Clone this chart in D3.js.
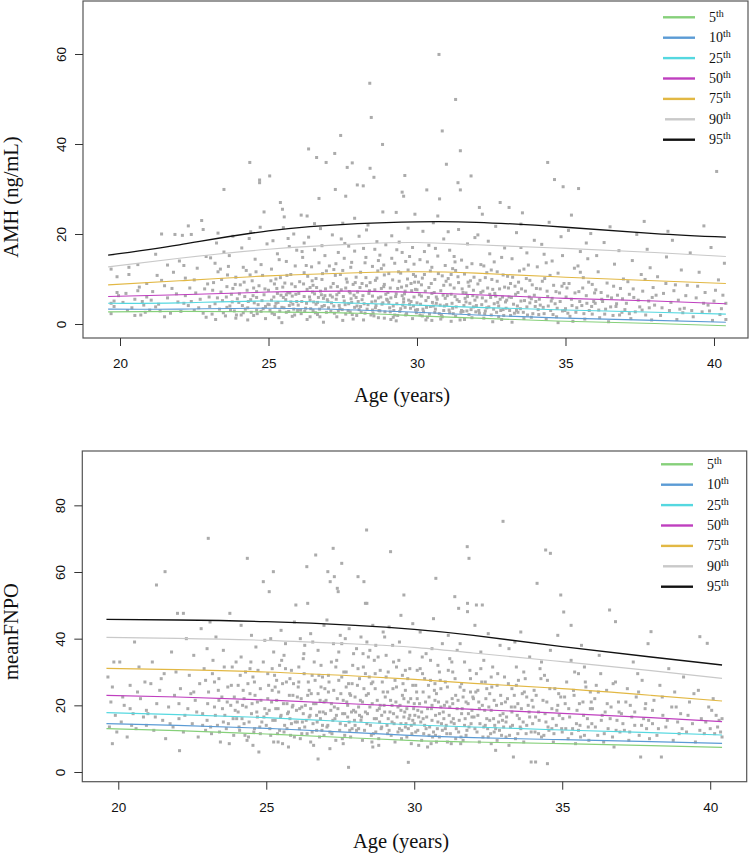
<!DOCTYPE html>
<html><head><meta charset="utf-8">
<script src="https://cdn.jsdelivr.net/npm/d3@7"></script>
<style>body{margin:0;background:#fff}svg{display:block}</style>
</head><body>
<script>
// ---------- DATA ----------
const percentileLabels = ["5","10","25","50","75","90","95"];
const percentileColors = ["#86d07a","#5b9bd5","#55d8e0","#bf3fbf","#e2b844","#c9c9c9","#111111"];
const curveAges = [19.6, 22, 25, 28, 30, 32, 35, 38, 40.4];
const amhCurves = [
  [2.7, 2.8, 2.7, 2.4, 1.8, 1.3, 0.6, 0.1, -0.4],
  [3.3, 3.3, 3.5, 3.1, 2.6, 2.0, 1.3, 0.8, 0.4],
  [4.6, 4.7, 5.1, 4.6, 4.2, 3.7, 3.1, 2.6, 2.2],
  [6.1, 6.5, 7.1, 7.3, 7.0, 6.5, 5.7, 5.1, 4.5],
  [8.7, 9.6, 10.7, 11.4, 11.6, 11.3, 10.4, 9.6, 9.0],
  [12.7, 14.6, 16.6, 17.8, 18.1, 17.6, 16.8, 15.9, 15.0],
  [15.3, 17.6, 20.7, 22.3, 22.7, 22.6, 21.5, 20.1, 19.3]
];
const fnpoCurves = [
  [13.0, 12.4, 11.4, 10.2, 9.4, 9.0, 8.5, 7.9, 7.4],
  [14.5, 14.0, 13.1, 11.8, 10.9, 10.3, 9.7, 9.1, 8.6],
  [17.8, 17.2, 16.3, 15.0, 14.1, 13.5, 12.6, 11.8, 11.1],
  [23.0, 22.5, 21.6, 20.4, 19.6, 18.8, 17.6, 16.3, 15.1],
  [31.1, 30.7, 30.0, 28.8, 27.8, 26.6, 25.0, 23.0, 21.3],
  [40.4, 40.1, 39.5, 38.4, 37.4, 35.7, 33.1, 30.4, 28.1],
  [45.8, 45.6, 45.1, 44.0, 42.8, 41.0, 37.6, 34.5, 32.1]
];
const xTicks = [20, 25, 30, 35, 40];
const amhTicks = [0, 20, 40, 60];
const fnpoTicks = [0, 20, 40, 60, 80];

const amhPoints = [
[19.7,12.2],[19.8,5.1],[19.7,4.6],[19.9,7.0],[19.8,3.9],[19.9,10.5],[19.7,2.3],[19.95,6.3],
[20.1,4.8],[20.2,6.8],[20.3,11.0],[20.4,3.6],[20.5,5.5],[20.6,7.4],[20.7,2.0],[20.8,4.2],[20.9,9.0],[20.3,12.6],[20.6,13.2],[20.5,1.9],[20.9,6.0],[20.75,5.0],
[21.0,3.1],[21.1,7.2],[21.2,15.5],[21.3,4.4],[21.4,20.0],[21.5,8.5],[21.6,5.8],[21.7,2.4],[21.8,11.5],[21.9,6.7],[21.2,3.8],[21.5,1.6],[21.6,13.1],[21.85,19.9],[21.4,9.7],[21.95,4.9],
[22.0,14.0],[22.05,2.8],[22.1,19.7],[22.2,6.3],[22.3,21.8],[22.3,4.1],[22.4,19.9],[22.5,9.8],[22.5,3.0],[22.6,12.4],[22.7,5.5],[22.75,23.0],[22.8,21.0],[22.85,7.8],[22.9,1.5],[22.9,15.0],[22.2,10.2],[22.4,5.0],[22.65,3.6],[22.95,8.9],
[23.0,6.0],[23.05,14.7],[23.1,2.2],[23.15,9.2],[23.2,4.5],[23.25,18.0],[23.3,11.6],[23.35,3.3],[23.4,7.1],[23.45,5.2],[23.5,29.9],[23.5,16.0],[23.55,1.8],[23.6,8.3],[23.65,12.8],[23.7,4.0],[23.75,6.6],[23.8,19.5],[23.85,2.9],[23.9,10.4],[23.95,5.6],[23.3,20.2],[23.6,3.7],[23.8,7.9],[23.2,13.5],[23.9,1.3],
[24.0,4.8],[24.05,8.7],[24.1,16.9],[24.15,2.5],[24.2,6.1],[24.25,11.9],[24.3,3.6],[24.35,19.0],[24.37,35.9],[24.4,5.4],[24.45,9.6],[24.5,1.9],[24.55,14.4],[24.6,7.2],[24.65,4.3],[24.7,32.0],[24.7,31.4],[24.72,21.5],[24.75,2.8],[24.8,10.8],[24.85,24.9],[24.85,6.5],[24.9,3.9],[24.95,17.8],[24.15,12.6],[24.3,0.9],[24.5,8.0],[24.6,5.9],[24.75,13.2],[24.9,1.2],[24.4,20.5],[24.6,3.1],
[25.0,7.5],[25.04,32.9],[25.05,3.0],[25.1,12.2],[25.1,5.3],[25.15,18.5],[25.2,2.1],[25.2,8.9],[25.25,4.6],[25.3,15.6],[25.3,6.8],[25.35,1.4],[25.4,27.0],[25.4,10.3],[25.45,3.7],[25.47,25.5],[25.5,21.4],[25.5,5.9],[25.53,23.8],[25.55,9.1],[25.6,2.6],[25.6,13.9],[25.65,7.0],[25.7,4.1],[25.7,17.2],[25.75,11.0],[25.8,1.7],[25.8,6.2],[25.85,20.0],[25.85,3.3],[25.9,8.3],[25.9,12.9],[25.95,5.0],[25.95,16.4],[25.25,10.0],[25.45,0.3],[25.75,4.9],[25.6,6.5],
[26.0,4.2],[26.05,9.4],[26.1,24.2],[26.1,2.3],[26.15,14.8],[26.2,6.1],[26.2,11.4],[26.25,3.5],[26.3,24.0],[26.3,7.7],[26.35,38.9],[26.35,19.3],[26.4,1.6],[26.4,5.3],[26.45,12.7],[26.5,8.6],[26.5,3.0],[26.55,16.5],[26.55,6.7],[26.6,10.1],[26.62,37.0],[26.65,2.1],[26.65,4.8],[26.7,27.9],[26.7,13.6],[26.75,7.3],[26.75,21.2],[26.8,3.9],[26.8,9.9],[26.85,5.7],[26.85,0.4],[26.9,15.2],[26.94,35.9],[26.95,2.6],[26.95,11.8],[26.2,18.0],[26.4,8.1],[26.6,4.4],[26.8,17.4],[26.3,1.0],[26.55,22.3],[26.9,6.3],
[27.0,5.0],[27.05,12.9],[27.1,2.8],[27.1,8.2],[27.15,19.8],[27.2,4.0],[27.23,37.9],[27.25,29.9],[27.25,10.8],[27.3,6.5],[27.3,1.6],[27.35,15.9],[27.4,3.4],[27.43,41.9],[27.45,7.6],[27.5,22.4],[27.5,11.9],[27.55,5.1],[27.6,28.4],[27.6,2.2],[27.65,34.8],[27.65,9.3],[27.7,17.3],[27.7,4.5],[27.75,6.9],[27.8,13.7],[27.82,35.8],[27.85,1.1],[27.85,8.8],[27.9,23.5],[27.9,3.7],[27.95,5.9],[27.95,10.4],[27.99,30.9],[27.15,6.0],[27.35,3.0],[27.55,14.6],[27.75,2.7],[27.45,18.9],[27.6,8.0],[27.8,4.8],[27.2,12.1],[27.5,0.8],[27.9,16.2],
[28.0,7.1],[28.05,3.2],[28.1,11.5],[28.15,5.4],[28.19,30.7],[28.2,16.8],[28.25,2.4],[28.3,8.5],[28.3,20.9],[28.35,4.3],[28.41,53.5],[28.42,34.6],[28.46,45.9],[28.5,6.2],[28.5,12.8],[28.55,32.6],[28.55,1.8],[28.6,9.7],[28.6,3.6],[28.65,18.3],[28.7,5.8],[28.7,14.1],[28.75,2.9],[28.8,7.9],[28.84,39.9],[28.85,24.9],[28.85,4.7],[28.9,10.9],[28.9,1.3],[28.95,6.6],[28.95,17.6],[28.1,3.9],[28.25,13.6],[28.4,7.4],[28.45,2.0],[28.65,10.2],[28.8,12.3],[28.35,22.0],[28.6,5.1],[28.75,15.3],[28.9,8.8],[28.05,19.5],[28.2,0.9],[28.5,3.1],
[29.0,5.3],[29.05,11.2],[29.1,2.7],[29.1,8.0],[29.15,19.6],[29.2,4.0],[29.25,13.5],[29.3,24.8],[29.3,6.7],[29.35,1.9],[29.4,9.5],[29.45,3.4],[29.5,29.3],[29.5,15.9],[29.55,28.4],[29.55,5.6],[29.59,33.0],[29.6,7.3],[29.65,2.3],[29.7,12.0],[29.7,21.3],[29.75,4.4],[29.8,9.0],[29.85,1.2],[29.85,17.0],[29.9,6.0],[29.93,24.4],[29.95,3.1],[29.95,10.6],[29.15,14.6],[29.35,7.9],[29.45,11.3],[29.6,3.7],[29.8,5.0],[29.2,1.5],[29.4,18.2],[29.65,8.5],[29.9,13.3],[29.05,4.8],[29.25,2.0],[29.5,6.3],[29.75,15.0],[29.95,7.7],[29.3,0.7],
[30.0,4.7],[30.05,9.3],[30.1,2.0],[30.1,14.3],[30.15,6.2],[30.2,3.3],[30.2,20.6],[30.25,11.0],[30.3,5.2],[30.33,29.8],[30.35,1.5],[30.4,8.1],[30.4,17.5],[30.45,3.9],[30.5,12.6],[30.5,6.8],[30.55,22.5],[30.6,2.6],[30.6,9.9],[30.65,4.6],[30.7,15.1],[30.74,59.9],[30.76,27.8],[30.8,7.4],[30.8,1.1],[30.85,42.9],[30.85,10.7],[30.9,3.0],[30.9,18.9],[30.95,5.7],[30.99,35.5],[30.95,13.0],[30.15,8.7],[30.3,0.9],[30.45,11.8],[30.65,6.0],[30.75,2.3],[30.9,8.6],[30.25,16.1],[30.55,4.0],[30.7,24.0],[30.0,7.6],
[31.0,4.3],[31.05,10.1],[31.1,2.5],[31.1,16.4],[31.15,6.6],[31.2,3.5],[31.2,12.3],[31.25,8.0],[31.3,49.9],[31.3,1.7],[31.35,5.4],[31.38,31.4],[31.4,21.0],[31.4,9.2],[31.46,38.5],[31.46,29.8],[31.5,3.0],[31.5,14.2],[31.55,7.0],[31.6,1.0],[31.6,11.1],[31.65,4.9],[31.7,17.8],[31.7,6.1],[31.75,2.1],[31.8,9.6],[31.82,32.9],[31.85,13.4],[31.9,3.8],[31.9,7.5],[31.95,19.2],[31.95,5.3],[31.15,0.6],[31.3,11.9],[31.55,2.8],[31.75,8.4],[31.25,15.0],[31.65,6.9],[31.05,20.5],[31.85,1.4],
[32.0,4.1],[32.05,8.9],[32.1,25.9],[32.1,2.4],[32.15,13.2],[32.2,24.4],[32.2,5.8],[32.25,1.3],[32.3,10.3],[32.35,3.6],[32.4,18.4],[32.45,6.6],[32.5,2.0],[32.5,12.0],[32.55,7.7],[32.6,4.5],[32.65,21.7],[32.7,9.5],[32.75,1.6],[32.8,27.0],[32.8,5.5],[32.85,14.8],[32.9,3.2],[32.95,8.2],[32.95,16.9],[32.15,7.0],[32.35,11.4],[32.55,0.5],[32.75,4.0],[32.9,10.9],[32.3,2.9],[32.45,15.6],[32.65,6.2],[32.85,1.0],[32.05,19.8],[32.6,13.8],
[33.0,3.5],[33.05,10.6],[33.1,25.9],[33.1,6.0],[33.15,1.9],[33.2,14.5],[33.25,4.4],[33.3,8.4],[33.35,20.3],[33.4,2.6],[33.45,11.8],[33.5,5.1],[33.5,17.0],[33.55,24.7],[33.6,1.2],[33.65,7.3],[33.7,3.8],[33.75,13.1],[33.8,9.7],[33.85,5.6],[33.9,2.3],[33.95,18.6],[33.2,0.4],[33.4,7.0],[33.6,12.2],[33.8,4.7],[33.15,9.0],[33.35,3.0],[33.7,15.8],[33.95,6.4],[33.5,22.2],[33.85,1.5],
[34.0,5.0],[34.05,12.7],[34.1,2.1],[34.15,7.8],[34.2,17.7],[34.25,3.7],[34.3,10.1],[34.35,1.0],[34.4,35.9],[34.4,6.1],[34.45,22.6],[34.5,3.0],[34.55,14.0],[34.6,8.6],[34.63,32.1],[34.65,4.5],[34.7,1.6],[34.75,11.3],[34.8,6.9],[34.85,19.4],[34.9,2.9],[34.92,30.5],[34.95,9.0],[34.15,4.2],[34.35,13.6],[34.55,5.7],[34.75,0.3],[34.9,15.2],
[35.0,3.4],[35.05,8.0],[35.1,20.8],[35.15,1.7],[35.2,24.2],[35.2,5.5],[35.3,12.4],[35.35,2.6],[35.44,30.1],[35.45,7.2],[35.5,16.1],[35.55,4.1],[35.6,10.3],[35.65,1.1],[35.7,6.3],[35.75,14.5],[35.8,3.0],[35.85,20.1],[35.9,8.8],[35.95,5.0],[35.25,0.6],[35.5,11.5],[35.7,18.0],[35.9,2.2],
[36.0,4.6],[36.1,11.6],[36.15,1.4],[36.2,7.0],[36.3,18.1],[36.35,3.3],[36.4,9.1],[36.5,21.6],[36.55,5.8],[36.6,1.9],[36.65,13.3],[36.7,3.9],[36.8,16.3],[36.85,7.9],[36.9,2.6],[36.95,10.0],[36.25,5.0],[36.45,0.5],[36.75,6.4],[36.05,15.2],
[37.0,3.2],[37.1,9.4],[37.2,1.2],[37.25,14.1],[37.3,5.9],[37.4,19.9],[37.5,3.8],[37.55,11.0],[37.6,7.3],[37.7,2.0],[37.75,16.6],[37.8,5.1],[37.85,12.5],[37.9,0.9],[37.95,8.1],[37.35,2.7],[37.65,22.8],[37.15,6.6],
[38.0,4.2],[38.1,10.5],[38.2,1.9],[38.3,6.8],[38.4,14.9],[38.5,3.0],[38.6,18.6],[38.7,8.7],[38.75,1.0],[38.8,5.3],[38.9,12.0],[38.95,2.5],[38.45,20.6],[38.65,7.4],
[39.0,3.5],[39.1,8.6],[39.2,15.8],[39.3,1.6],[39.4,5.8],[39.5,11.5],[39.6,2.7],[39.66,21.8],[39.7,7.0],[39.8,4.2],[39.9,17.0],[39.95,0.8],
[40.0,5.1],[40.09,33.9],[40.15,9.8],[40.2,2.1],[40.3,6.4],[40.35,13.5],[40.4,4.6],[40.4,1.0]
];
const amhPointsDense = [
[20.25,3.0],[20.65,8.2],[21.05,5.3],[21.35,2.9],[21.75,7.9],[22.15,4.6],[22.35,8.0],[22.55,6.9],[22.8,2.4],[22.15,13.0],[21.25,10.8],[20.85,2.6],
[23.02,3.9],[23.12,7.5],[23.22,1.0],[23.28,5.8],[23.42,9.9],[23.48,2.5],[23.58,6.0],[23.62,10.9],[23.72,3.0],[23.78,4.9],[23.88,8.8],[23.92,2.0],[23.68,15.2],[23.38,12.2],
[24.02,6.7],[24.08,2.0],[24.12,4.1],[24.18,9.3],[24.22,3.3],[24.28,7.5],[24.32,5.0],[24.38,10.9],[24.42,2.6],[24.48,6.3],[24.52,4.7],[24.58,11.6],[24.62,2.3],[24.68,8.5],[24.78,5.2],[24.82,3.4],[24.88,7.8],[24.98,4.4],
[25.02,4.3],[25.08,9.6],[25.12,2.4],[25.18,6.0],[25.22,3.9],[25.28,7.9],[25.32,4.8],[25.38,2.9],[25.42,6.4],[25.48,8.2],[25.52,3.6],[25.58,5.4],[25.62,10.8],[25.68,2.8],[25.72,6.9],[25.78,8.9],[25.82,4.4],[25.88,2.0],[25.92,6.6],[25.98,3.0],[25.36,14.3],[25.66,19.0],
[26.02,6.8],[26.08,3.1],[26.12,5.0],[26.18,8.9],[26.22,2.8],[26.28,4.6],[26.32,10.6],[26.38,6.0],[26.42,3.4],[26.48,7.1],[26.52,4.9],[26.58,2.5],[26.62,8.1],[26.68,5.9],[26.72,3.3],[26.78,6.5],[26.82,11.2],[26.88,4.1],[26.92,7.8],[26.98,5.4],[26.27,13.0],[26.47,9.6],[26.73,1.6],[26.13,16.1],
[27.02,3.6],[27.08,6.4],[27.12,4.7],[27.18,9.0],[27.22,2.4],[27.28,5.5],[27.32,8.3],[27.38,4.1],[27.42,11.0],[27.48,3.2],[27.52,6.1],[27.58,4.3],[27.62,10.0],[27.68,3.0],[27.72,7.2],[27.78,5.6],[27.82,2.1],[27.88,6.4],[27.92,9.2],[27.98,4.0],[27.27,13.4],[27.57,17.9],[27.77,12.6],[27.37,7.0],[27.97,1.9],
[28.02,5.0],[28.08,8.1],[28.12,2.6],[28.18,6.3],[28.22,4.5],[28.28,10.3],[28.32,3.3],[28.38,6.8],[28.42,9.2],[28.48,4.9],[28.52,2.4],[28.58,7.6],[28.62,4.1],[28.68,11.8],[28.72,3.0],[28.78,6.0],[28.82,4.4],[28.88,8.3],[28.92,2.7],[28.98,5.5],[28.28,14.8],[28.58,16.6],[28.88,13.1],[28.15,9.0],[28.7,1.4],
[29.02,7.0],[29.08,3.6],[29.12,5.8],[29.18,9.8],[29.22,3.0],[29.28,6.1],[29.32,4.5],[29.38,11.6],[29.42,2.8],[29.48,8.2],[29.52,4.2],[29.58,6.7],[29.62,2.0],[29.68,10.0],[29.72,5.3],[29.78,3.5],[29.82,7.4],[29.88,4.0],[29.92,9.3],[29.98,2.5],[29.32,16.5],[29.62,13.9],[29.88,11.0],[29.12,1.0],[29.55,4.9],
[30.02,3.2],[30.08,6.5],[30.12,4.4],[30.18,10.2],[30.22,2.7],[30.28,7.3],[30.32,3.7],[30.38,5.9],[30.42,2.2],[30.48,9.0],[30.52,4.8],[30.58,7.0],[30.62,3.3],[30.68,5.5],[30.72,11.2],[30.78,4.2],[30.82,2.0],[30.88,6.4],[30.92,4.0],[30.98,9.5],[30.35,13.8],[30.62,16.8],[30.18,1.8],[30.85,1.6],[30.5,0.8],
[31.02,6.3],[31.08,3.1],[31.12,8.7],[31.18,4.6],[31.22,2.3],[31.28,6.1],[31.32,3.8],[31.38,10.5],[31.42,5.0],[31.48,2.6],[31.52,7.8],[31.58,4.1],[31.62,5.7],[31.68,2.9],[31.72,9.3],[31.78,4.6],[31.82,3.2],[31.88,6.3],[31.92,10.4],[31.98,2.7],[31.28,13.8],[31.68,12.6],[31.45,0.9],[31.15,11.0],
[32.02,6.0],[32.08,3.0],[32.12,9.7],[32.18,4.3],[32.22,7.3],[32.28,2.3],[32.32,5.1],[32.38,8.0],[32.42,3.8],[32.48,5.9],[32.52,9.9],[32.58,3.3],[32.62,6.8],[32.68,2.6],[32.72,4.8],[32.78,7.8],[32.82,3.0],[32.88,6.0],[32.92,1.9],[32.98,4.9],[32.25,12.9],[32.7,11.6],
[33.02,5.3],[33.08,8.0],[33.12,3.0],[33.18,5.9],[33.22,10.4],[33.28,2.4],[33.32,6.6],[33.38,4.0],[33.42,9.3],[33.48,3.4],[33.52,7.8],[33.58,2.6],[33.62,5.2],[33.68,10.1],[33.72,2.0],[33.78,6.0],[33.88,8.7],[33.98,3.9],
[34.02,7.9],[34.08,3.2],[34.12,5.5],[34.22,9.5],[34.28,2.3],[34.38,7.3],[34.42,4.0],[34.48,10.8],[34.52,5.1],[34.58,2.1],[34.68,7.2],[34.72,3.5],[34.82,5.0],[34.88,8.4],[34.98,3.0],[34.28,15.5],
[35.02,6.0],[35.08,2.4],[35.12,9.0],[35.22,4.1],[35.32,6.9],[35.38,3.6],[35.48,5.0],[35.58,8.0],[35.62,2.3],[35.72,4.6],[35.78,9.3],[35.88,3.9],[35.98,6.9],[35.42,12.9],
[36.02,7.6],[36.12,3.1],[36.22,5.5],[36.32,2.2],[36.42,6.2],[36.52,3.8],[36.62,8.4],[36.72,4.5],[36.82,2.0],[36.92,5.6],
[37.05,4.6],[37.15,2.3],[37.28,7.8],[37.45,5.3],[37.58,3.1],[37.68,9.9],[37.82,3.6],[37.92,5.9],
[38.05,6.4],[38.25,3.6],[38.38,9.0],[38.55,4.8],[38.85,3.3],[39.05,6.3],[39.25,3.0],[39.45,8.4],[39.65,4.6],[39.85,2.9],[40.05,7.5],[40.25,3.4]
];

const fnpoPoints = [
[19.65,28.5],[19.7,13.5],[19.75,21.0],[19.8,8.5],[19.85,33.0],[19.9,17.0],[19.95,12.0],[19.8,25.5],
[20.05,33.0],[20.1,15.0],[20.2,20.0],[20.3,10.5],[20.4,26.0],[20.5,17.5],[20.55,39.0],[20.6,13.0],[20.7,31.5],[20.75,22.0],[20.85,16.5],[20.9,27.0],[20.4,19.0],[20.95,14.0],
[21.0,17.5],[21.1,26.5],[21.15,33.0],[21.2,12.5],[21.29,56.1],[21.3,20.5],[21.4,24.5],[21.5,15.5],[21.55,29.5],[21.58,60.1],[21.6,10.0],[21.7,19.5],[21.8,36.0],[21.85,13.5],[21.9,23.0],[21.95,30.0],
[22.0,47.6],[22.05,16.0],[22.07,6.4],[22.1,25.0],[22.2,47.6],[22.2,12.0],[22.3,40.0],[22.35,19.0],[22.4,29.0],[22.5,14.5],[22.55,35.0],[22.6,21.5],[22.7,10.5],[22.75,26.5],[22.8,43.0],[22.85,17.5],[22.9,31.0],[22.95,12.5],[22.45,23.5],[22.65,18.0],
[23.0,15.5],[23.04,70.1],[23.05,24.0],[23.1,45.0],[23.15,11.5],[23.2,33.5],[23.25,19.5],[23.3,40.5],[23.35,14.0],[23.4,28.0],[23.45,9.0],[23.5,22.5],[23.55,36.5],[23.6,17.0],[23.65,13.0],[23.7,25.5],[23.77,47.6],[23.8,20.0],[23.85,31.5],[23.9,11.0],[23.95,18.5],[23.25,27.0],[23.55,15.0],[23.75,8.5],[23.0,37.0],[23.4,21.5],
[24.0,16.0],[24.05,26.0],[24.1,12.5],[24.15,34.5],[24.2,20.0],[24.25,14.5],[24.3,30.0],[24.36,64.1],[24.4,10.5],[24.45,23.5],[24.5,41.0],[24.5,17.5],[24.55,28.5],[24.6,13.0],[24.65,37.5],[24.7,21.0],[24.75,6.0],[24.8,25.0],[24.85,15.0],[24.9,57.1],[24.9,33.0],[24.95,19.0],[24.15,44.0],[24.35,9.5],[24.6,27.0],[24.8,11.5],[24.25,22.0],[24.45,31.0],[24.7,16.5],[24.95,39.5],[24.05,18.0],[24.55,8.0],
[25.0,14.0],[25.05,29.5],[25.1,54.1],[25.1,18.5],[25.15,11.0],[25.2,24.5],[25.24,60.1],[25.25,36.0],[25.3,15.5],[25.35,21.5],[25.4,9.0],[25.45,32.0],[25.5,42.5],[25.5,17.0],[25.55,26.5],[25.6,12.0],[25.65,38.5],[25.7,20.5],[25.75,7.5],[25.8,28.0],[25.85,14.5],[25.9,23.0],[25.95,45.0],[25.95,10.5],[25.2,31.0],[25.4,19.0],[25.6,35.0],[25.8,16.0],[25.3,25.5],[25.7,13.0],[25.15,40.0],[25.45,12.5],[25.85,30.5],[25.05,22.0],[25.55,8.5],[25.75,18.0],[25.35,27.5],[25.9,20.0],
[26.0,50.1],[26.05,15.0],[26.1,27.0],[26.15,10.0],[26.2,19.5],[26.25,34.0],[26.3,13.5],[26.37,61.6],[26.4,50.6],[26.4,23.0],[26.45,16.5],[26.5,41.5],[26.5,9.0],[26.55,29.0],[26.6,20.5],[26.67,65.1],[26.7,12.5],[26.75,3.9],[26.75,36.5],[26.8,18.0],[26.85,25.5],[26.9,14.0],[26.95,44.0],[26.95,21.0],[26.1,31.5],[26.2,11.5],[26.3,38.0],[26.45,24.5],[26.6,8.0],[26.7,17.0],[26.85,32.0],[26.05,22.5],[26.25,17.5],[26.55,12.0],[26.65,27.5],[26.8,10.5],[26.35,15.5],[26.9,28.5],[26.15,40.0],[26.5,19.0],[26.75,23.5],[26.95,11.0],
[27.0,17.5],[27.05,45.6],[27.08,60.1],[27.1,24.0],[27.15,12.0],[27.16,57.1],[27.2,33.0],[27.26,67.1],[27.3,58.6],[27.3,19.5],[27.35,9.5],[27.4,55.1],[27.43,54.1],[27.45,27.5],[27.5,14.5],[27.55,62.6],[27.55,38.5],[27.6,21.5],[27.65,11.0],[27.7,30.0],[27.75,16.5],[27.78,1.4],[27.8,43.0],[27.85,23.0],[27.9,13.0],[27.95,35.5],[27.95,18.5],[27.1,29.0],[27.25,15.5],[27.4,22.0],[27.5,41.0],[27.6,8.5],[27.7,25.5],[27.85,10.5],[27.2,20.5],[27.35,31.5],[27.65,17.5],[27.9,26.5],[27.05,13.5],[27.45,36.0],[27.75,20.0],[27.15,7.0],[27.55,28.5],[27.8,15.0],
[28.0,22.5],[28.05,12.5],[28.1,58.6],[28.1,31.0],[28.15,17.0],[28.2,40.5],[28.25,9.5],[28.3,57.1],[28.3,25.0],[28.35,50.6],[28.39,72.6],[28.4,50.6],[28.4,14.5],[28.45,34.5],[28.5,19.5],[28.55,11.0],[28.6,44.0],[28.6,27.0],[28.65,16.0],[28.7,38.0],[28.75,21.5],[28.8,8.0],[28.85,30.5],[28.9,13.5],[28.95,24.0],[28.95,42.0],[28.15,28.0],[28.35,18.0],[28.5,36.5],[28.7,12.0],[28.85,20.0],[28.2,15.5],[28.45,23.5],[28.65,33.5],[28.9,17.0],[28.05,37.0],[28.25,21.0],[28.55,26.5],[28.8,10.0],[28.35,29.5],[28.6,7.5],[28.75,18.5],[28.0,14.0],[28.4,39.0],
[29.0,18.0],[29.05,28.5],[29.1,11.5],[29.15,43.5],[29.2,66.1],[29.2,21.5],[29.25,15.0],[29.3,33.0],[29.35,9.0],[29.4,25.5],[29.45,19.5],[29.5,39.0],[29.5,13.0],[29.55,47.0],[29.6,23.0],[29.65,53.1],[29.65,16.5],[29.7,30.5],[29.75,10.5],[29.8,2.9],[29.8,21.0],[29.85,36.0],[29.9,14.0],[29.95,26.0],[29.95,44.5],[29.1,24.0],[29.3,17.5],[29.45,12.0],[29.6,29.0],[29.75,19.0],[29.9,8.5],[29.05,35.0],[29.25,20.0],[29.55,14.5],[29.7,24.5],[29.85,17.0],[29.15,12.5],[29.4,31.5],[29.65,22.0],[29.95,15.5],[29.35,27.5],[29.55,18.5],[29.8,13.0],[29.0,40.5],
[30.0,20.5],[30.05,12.0],[30.1,30.5],[30.15,16.5],[30.2,42.0],[30.25,9.5],[30.3,24.0],[30.35,14.0],[30.4,35.5],[30.45,19.0],[30.5,11.0],[30.55,27.5],[30.6,15.5],[30.65,46.0],[30.7,21.5],[30.73,58.1],[30.75,9.0],[30.8,32.0],[30.85,17.5],[30.9,25.0],[30.95,12.5],[30.95,38.5],[30.1,22.0],[30.25,18.0],[30.4,13.0],[30.55,33.5],[30.7,26.5],[30.85,10.5],[30.15,8.0],[30.35,28.0],[30.6,20.0],[30.8,15.0],[30.05,26.0],[30.3,16.0],[30.5,22.5],[30.65,12.0],[30.9,19.5],[30.2,31.0],[30.45,7.5],[30.75,23.5],[30.0,14.5],[30.6,37.0],
[31.0,16.0],[31.05,27.0],[31.1,11.5],[31.15,41.0],[31.2,19.5],[31.25,8.5],[31.3,30.0],[31.37,52.6],[31.35,14.5],[31.4,23.0],[31.45,36.5],[31.5,49.1],[31.5,12.0],[31.55,25.5],[31.6,17.5],[31.65,9.5],[31.7,33.0],[31.75,21.0],[31.79,67.6],[31.8,50.6],[31.8,48.1],[31.85,64.1],[31.85,13.5],[31.9,28.0],[31.95,18.5],[31.1,21.0],[31.25,15.0],[31.4,10.0],[31.55,38.5],[31.7,14.0],[31.9,24.0],[31.15,30.5],[31.3,20.5],[31.6,26.5],[31.75,11.0],[31.95,16.5],[31.05,13.0],[31.45,19.0],[31.65,22.5],[31.2,34.0],
[32.0,22.0],[32.05,13.0],[32.1,50.1],[32.1,29.5],[32.15,17.0],[32.2,9.0],[32.25,36.0],[32.3,50.1],[32.3,20.0],[32.35,13.5],[32.4,27.0],[32.45,16.0],[32.5,41.5],[32.5,10.5],[32.55,23.5],[32.6,18.5],[32.65,31.5],[32.7,12.0],[32.75,6.5],[32.8,26.0],[32.85,15.0],[32.9,38.0],[32.95,20.5],[32.95,11.0],[32.15,24.5],[32.4,14.0],[32.6,28.5],[32.8,9.5],[32.2,19.0],[32.35,33.5],[32.55,15.5],[32.7,21.5],[32.9,17.0],[32.05,44.0],[32.45,25.0],[32.75,13.0],
[33.0,75.2],[33.0,17.5],[33.05,28.5],[33.1,10.5],[33.15,22.0],[33.2,37.0],[33.25,13.5],[33.3,25.0],[33.35,4.5],[33.4,19.5],[33.45,31.5],[33.5,11.5],[33.55,16.0],[33.6,42.0],[33.65,23.5],[33.7,9.0],[33.75,28.0],[33.8,14.0],[33.85,20.0],[33.9,34.5],[33.95,12.0],[33.95,3.0],[33.1,15.0],[33.3,18.0],[33.45,26.0],[33.6,13.0],[33.8,22.5],[33.2,8.0],[33.5,20.5],[33.7,30.0],[33.9,16.5],[33.4,39.0],
[34.0,14.5],[34.05,24.5],[34.1,3.0],[34.15,56.6],[34.2,18.0],[34.25,31.0],[34.3,10.5],[34.35,21.5],[34.44,66.6],[34.45,15.0],[34.5,27.5],[34.5,2.5],[34.55,12.5],[34.6,65.6],[34.6,36.5],[34.65,19.0],[34.7,9.0],[34.75,25.0],[34.8,14.0],[34.85,41.0],[34.9,17.0],[34.95,53.1],[34.95,22.5],[34.2,11.5],[34.4,29.0],[34.65,13.0],[34.85,20.0],[34.1,16.5],
[35.0,12.0],[35.05,48.0],[35.1,20.5],[35.15,27.0],[35.2,10.0],[35.25,16.5],[35.3,33.5],[35.35,13.0],[35.4,23.0],[35.45,8.5],[35.5,18.5],[35.55,29.5],[35.6,14.0],[35.65,38.0],[35.7,21.0],[35.75,11.0],[35.8,25.5],[35.85,16.0],[35.9,9.5],[35.95,19.0],[35.3,44.0],[35.55,12.5],[35.75,31.5],[35.95,24.0],
[36.0,14.5],[36.1,22.0],[36.2,11.0],[36.3,29.5],[36.35,17.0],[36.4,9.0],[36.5,24.5],[36.55,13.0],[36.6,48.6],[36.65,19.5],[36.7,10.5],[36.8,45.1],[36.8,27.0],[36.85,15.5],[36.9,21.0],[36.95,12.0],[36.25,35.0],[36.45,18.0],[36.75,7.5],[36.15,26.0],
[37.0,17.5],[37.1,12.5],[37.2,25.0],[37.25,9.5],[37.3,20.0],[37.4,33.0],[37.45,14.0],[37.5,22.5],[37.6,11.0],[37.65,4.5],[37.7,27.5],[37.75,16.0],[37.8,19.0],[37.85,13.0],[37.9,38.5],[37.95,10.0],[37.35,16.5],[37.55,29.5],
[38.0,42.1],[38.05,14.5],[38.1,21.5],[38.2,11.0],[38.3,26.0],[38.35,4.5],[38.4,17.0],[38.5,13.5],[38.6,31.0],[38.7,19.5],[38.75,9.5],[38.8,24.0],[38.9,15.0],[38.95,11.5],
[39.0,17.5],[39.1,28.5],[39.2,12.0],[39.3,21.0],[39.4,14.5],[39.5,9.0],[39.6,24.5],[39.65,40.6],[39.7,16.0],[39.8,11.5],[39.9,38.6],[39.95,19.5],
[40.0,13.0],[40.1,22.0],[40.15,11.5],[40.2,17.0],[40.3,15.5],[40.35,12.0],[40.4,16.0],[40.4,10.5]
];
const fnpoPointsDense = [
[20.15,22.5],[20.45,14.0],[20.65,24.0],[20.95,18.5],[21.25,16.5],[21.45,28.0],[21.75,14.5],[22.05,20.5],[22.25,17.0],[22.55,24.0],[22.85,14.0],[22.95,27.5],
[23.02,20.5],[23.12,13.5],[23.18,29.5],[23.28,17.0],[23.38,24.5],[23.42,12.0],[23.52,19.0],[23.58,31.5],[23.68,21.0],[23.72,14.5],[23.82,26.0],[23.88,16.0],[23.92,22.5],[23.98,33.0],
[24.02,21.0],[24.08,13.5],[24.12,29.0],[24.18,16.0],[24.22,24.5],[24.28,11.0],[24.32,19.5],[24.38,26.5],[24.42,15.0],[24.48,33.0],[24.52,20.5],[24.58,12.0],[24.62,23.0],[24.68,18.0],[24.72,30.5],[24.78,13.5],[24.82,21.5],[24.92,16.5],
[25.02,17.5],[25.08,26.0],[25.12,13.0],[25.18,21.0],[25.22,15.5],[25.28,29.0],[25.32,19.0],[25.38,11.5],[25.42,24.0],[25.48,16.5],[25.52,33.5],[25.58,20.5],[25.62,14.0],[25.68,27.0],[25.72,17.5],[25.78,23.0],[25.82,11.0],[25.88,19.5],[25.92,26.5],[25.98,15.0],[25.25,9.0],[25.65,31.0],
[26.02,18.5],[26.08,25.5],[26.12,13.0],[26.18,22.0],[26.22,15.0],[26.28,29.5],[26.32,20.0],[26.38,11.5],[26.42,27.0],[26.48,17.0],[26.52,23.5],[26.58,14.5],[26.62,33.0],[26.68,20.5],[26.72,15.0],[26.78,29.0],[26.82,21.5],[26.88,12.5],[26.92,18.0],[26.98,25.0],[26.27,35.5],[26.57,39.0],[26.83,16.0],[26.13,19.0],
[27.02,21.5],[27.08,14.0],[27.12,27.0],[27.18,18.5],[27.22,11.5],[27.28,24.5],[27.32,16.0],[27.38,33.5],[27.42,19.0],[27.48,12.5],[27.52,23.5],[27.58,17.5],[27.62,30.0],[27.68,14.0],[27.72,21.0],[27.78,26.5],[27.82,12.5],[27.88,18.0],[27.92,32.0],[27.98,15.5],[27.27,38.5],[27.57,10.0],[27.82,23.5],[27.37,17.0],[27.67,40.0],
[28.02,18.0],[28.08,26.0],[28.12,13.0],[28.18,21.5],[28.22,16.5],[28.28,31.5],[28.32,12.5],[28.38,23.0],[28.42,17.5],[28.48,28.5],[28.52,14.0],[28.58,20.5],[28.62,11.5],[28.68,25.0],[28.72,16.0],[28.78,34.5],[28.82,19.0],[28.88,13.0],[28.92,27.0],[28.98,20.0],[28.27,35.5],[28.57,9.0],[28.83,15.0],[28.12,19.5],[28.68,29.5],
[29.02,22.5],[29.08,14.0],[29.12,30.0],[29.18,18.0],[29.22,11.0],[29.28,25.0],[29.32,14.5],[29.38,21.0],[29.42,16.5],[29.48,33.5],[29.52,20.0],[29.58,12.5],[29.62,26.5],[29.68,18.0],[29.72,14.5],[29.78,28.0],[29.82,16.0],[29.88,22.0],[29.92,11.5],[29.98,19.0],[29.27,38.0],[29.57,10.0],[29.85,31.0],[29.12,16.0],[29.7,13.5],
[30.02,17.0],[30.08,24.0],[30.12,12.5],[30.18,20.5],[30.22,15.0],[30.28,29.5],[30.32,11.5],[30.38,21.0],[30.42,16.5],[30.48,26.0],[30.52,13.5],[30.58,19.0],[30.62,10.5],[30.68,24.5],[30.72,17.0],[30.78,13.0],[30.82,21.0],[30.88,27.5],[30.92,14.5],[30.98,18.0],[30.27,34.5],[30.57,8.5],[30.85,30.0],[30.12,18.5],[30.72,11.0],
[31.02,20.0],[31.08,14.0],[31.12,25.5],[31.18,17.0],[31.22,11.5],[31.28,22.0],[31.32,16.0],[31.38,28.0],[31.42,13.0],[31.48,21.5],[31.52,15.5],[31.58,10.5],[31.62,19.0],[31.68,24.5],[31.72,16.0],[31.78,12.5],[31.82,20.5],[31.88,30.5],[31.92,14.5],[31.98,22.5],[31.27,33.0],[31.57,8.5],[31.83,17.5],[31.12,9.0],
[32.02,16.5],[32.08,24.0],[32.12,12.0],[32.18,21.0],[32.22,14.5],[32.28,27.0],[32.32,10.5],[32.38,18.5],[32.42,22.0],[32.48,13.0],[32.52,19.5],[32.58,11.5],[32.62,25.5],[32.68,16.0],[32.72,14.0],[32.78,20.0],[32.82,29.5],[32.88,12.5],[32.92,23.0],[32.98,15.5],[32.25,31.0],[32.6,8.5],
[33.02,13.5],[33.08,21.0],[33.12,16.5],[33.18,26.5],[33.22,11.0],[33.28,19.5],[33.32,14.0],[33.38,23.0],[33.42,10.0],[33.48,17.0],[33.52,27.5],[33.58,13.5],[33.62,19.0],[33.68,15.0],[33.72,24.0],[33.78,11.5],[33.88,18.0],[33.98,21.5],
[34.02,19.5],[34.08,12.0],[34.12,23.0],[34.22,15.5],[34.28,28.0],[34.38,11.0],[34.42,17.5],[34.48,21.0],[34.52,13.5],[34.58,25.0],[34.68,16.0],[34.72,11.5],[34.82,18.5],[34.88,23.5],[34.98,13.0],[34.3,33.0],
[35.02,16.0],[35.08,22.5],[35.12,13.0],[35.22,19.0],[35.32,11.5],[35.38,24.5],[35.48,14.5],[35.58,20.5],[35.62,10.5],[35.72,17.0],[35.78,27.0],[35.88,13.5],[35.98,21.0],[35.42,30.0],
[36.02,19.0],[36.12,13.5],[36.22,24.0],[36.32,15.5],[36.42,11.5],[36.52,20.5],[36.62,16.0],[36.72,26.5],[36.82,12.5],[36.92,18.0],
[37.05,14.5],[37.15,21.0],[37.28,12.0],[37.45,18.0],[37.58,24.0],[37.68,14.0],[37.82,20.5],[37.92,15.5],
[38.05,18.5],[38.25,13.0],[38.38,22.5],[38.55,15.5],[38.85,19.5],[39.05,13.0],[39.25,17.0],[39.45,23.5],[39.65,12.5],[39.85,15.0],[40.05,18.5],[40.25,13.5]
];

// ---------- DRAWING ----------
const W = 753, H = 855;
const svg = d3.select("body").append("svg").attr("width", W).attr("height", H);
const SANS = "'Liberation Sans', Arial, Helvetica, sans-serif";
const SERIF = "'Liberation Serif', 'Times New Roman', Times, serif";

function panel(cfg) {
  const x = d3.scaleLinear().domain(cfg.xDomain).range([cfg.left, cfg.right]);
  const y = d3.scaleLinear().domain(cfg.yDomain).range([cfg.bottom, cfg.top]);
  const g = svg.append("g");

  // points
  g.append("g").selectAll("rect").data(cfg.points).join("rect")
    .attr("x", d => x(d[0]) - 1.5).attr("y", d => y(d[1]) - 1.5)
    .attr("width", 3).attr("height", 3).attr("fill", "#ababab");

  // curves
  const line = d3.line().x((d, i) => x(curveAges[i])).y(d => y(d)).curve(d3.curveNatural);
  g.append("g").selectAll("path").data(cfg.curves).join("path")
    .attr("d", d => line(d)).attr("fill", "none")
    .attr("stroke", (d, i) => percentileColors[i])
    .attr("stroke-width", (d, i) => i === 6 ? 1.3 : 1.1);

  // box
  g.append("rect").attr("x", cfg.left).attr("y", cfg.top)
    .attr("width", cfg.right - cfg.left).attr("height", cfg.bottom - cfg.top)
    .attr("fill", "none").attr("stroke", "#555").attr("stroke-width", 1.2);

  // x axis
  const xa = g.append("g").attr("transform", `translate(0,${cfg.bottom})`)
    .call(d3.axisBottom(x).tickValues(xTicks).tickSize(8).tickFormat(d3.format("d")));
  xa.select(".domain").remove();
  xa.selectAll(".tick line").attr("stroke", "#333");
  xa.selectAll(".tick text").attr("y", 30).attr("dy", 0)
    .attr("font-family", SANS).attr("font-size", 13.5).attr("fill", "#111");

  // y axis
  const ya = g.append("g").attr("transform", `translate(${cfg.left},0)`)
    .call(d3.axisLeft(y).tickValues(cfg.yTicks).tickSize(8).tickFormat(d3.format("d")));
  ya.select(".domain").remove();
  ya.selectAll(".tick line").attr("stroke", "#333");
  ya.selectAll(".tick text").attr("transform", "rotate(-90)")
    .attr("x", 0).attr("y", -17.5).attr("dy", 0).attr("text-anchor", "middle")
    .attr("font-family", SANS).attr("font-size", 13.5).attr("fill", "#111");

  // titles
  g.append("text").attr("x", cfg.xTitle[0]).attr("y", cfg.xTitle[1])
    .attr("text-anchor", "middle").attr("font-family", SERIF).attr("font-size", 20.5)
    .attr("fill", "#111").text("Age (years)");
  g.append("text").attr("transform", `translate(${cfg.yTitle[0]},${cfg.yTitle[1]}) rotate(-90)`)
    .attr("text-anchor", "middle").attr("font-family", SERIF).attr("font-size", 20.5)
    .attr("fill", "#111").text(cfg.yLabel);

  // legend
  const lg = g.append("g");
  const rows = lg.selectAll("g").data(percentileLabels).join("g")
    .attr("transform", (d, i) => `translate(0,${cfg.legendTop + i * 20.4})`);
  rows.append("line").attr("x1", (d, i) => cfg.legendX + (i === 5 ? 2 : 0)).attr("x2", cfg.legendX + 32)
    .attr("y1", 0).attr("y2", 0)
    .attr("stroke", (d, i) => percentileColors[i]).attr("stroke-width", 2.4);
  const tx = rows.append("text").attr("x", cfg.legendX + 46).attr("y", 4.4)
    .attr("font-family", SERIF).attr("font-size", 14).attr("fill", "#111");
  tx.append("tspan").text(d => d);
  tx.append("tspan").attr("dy", -5).attr("font-size", 10).text("th");
}

panel({
  left: 83, right: 748, top: 1, bottom: 338,
  xDomain: [18.754, 41.145], yDomain: [-3.111, 71.778],
  points: amhPoints.concat(amhPointsDense), curves: amhCurves, yTicks: amhTicks,
  xTitle: [402, 401.5], yTitle: [18, 197], yLabel: "AMH (ng/mL)",
  legendX: 663, legendTop: 17.3
});
panel({
  left: 82.3, right: 746.7, top: 451, bottom: 781.7,
  xDomain: [18.784, 41.233], yDomain: [-2.91, 96.3],
  points: fnpoPoints.concat(fnpoPointsDense), curves: fnpoCurves, yTicks: fnpoTicks,
  xTitle: [401, 848], yTitle: [17.5, 631.5], yLabel: "meanFNPO",
  legendX: 661, legendTop: 464.3
});
</script>
</body></html>
